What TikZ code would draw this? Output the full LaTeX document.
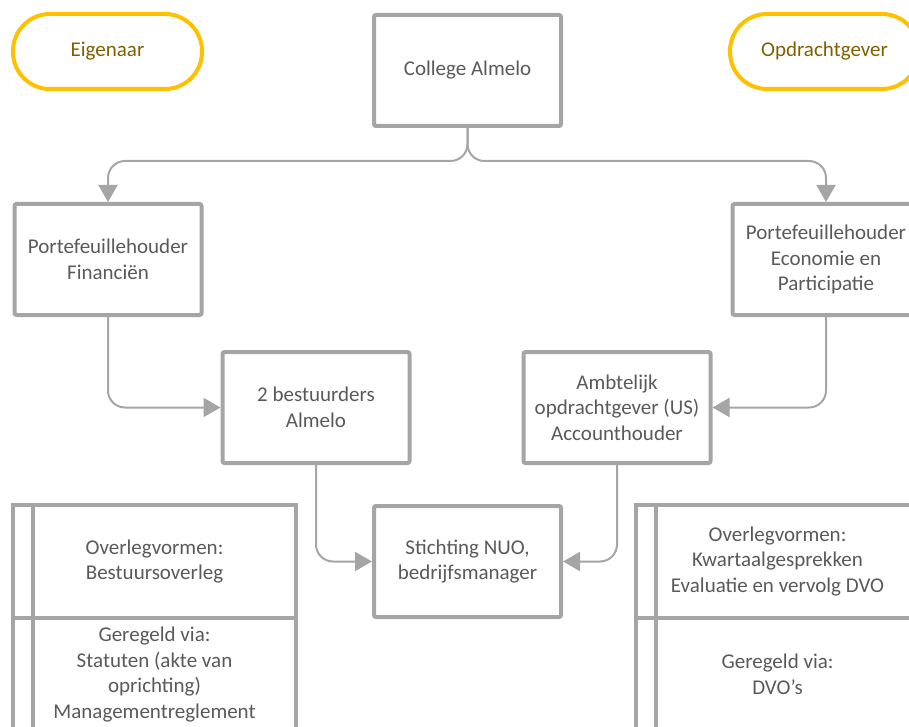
\documentclass[tikz,border=0pt]{standalone}
\usepackage{fontspec}
\setmainfont{Carlito}
\usetikzlibrary{arrows.meta}
\definecolor{boxgray}{HTML}{A5A5A5}
\definecolor{txtgray}{HTML}{595959}
\definecolor{gold}{HTML}{FFC000}
\definecolor{goldtxt}{HTML}{7F6000}

\begin{document}
\begin{tikzpicture}[x=1pt,y=-1pt,>={Triangle[length=17pt,width=19pt]},
 txt/.style={font=\fontsize{21}{25.6}\selectfont,align=center},
 box/.style={txt,draw=boxgray,line width=4pt,rounded corners=2pt,minimum width=187pt,minimum height=111pt,inner sep=0pt,text=txtgray},
 role/.style={txt,draw=gold,line width=4pt,rounded corners=37pt,minimum width=189pt,minimum height=75pt,text=goldtxt},
 cell/.style={box,rounded corners=0pt,minimum width=283pt,minimum height=113pt},
 conn/.style={draw=boxgray,line width=2pt,rounded corners=17pt,->}]
\useasboundingbox (0,0) rectangle (909,727);
\clip (0,0) rectangle (909,727);

% rollen
\node[role] (eig) at (107.5,51.5) {Eigenaar}; \node[role] (opd) at (824.5,51.5) {Opdrachtgever};

% organisatie
\node[box] (col) at (467.5,70.5) {College Almelo};
\node[box] (fin) at (108,259.5) {Portefeuillehouder\\Financiën}; \node[box] (eco) at (826,259.5) {Portefeuillehouder\\Economie en\\Participatie};
\node[box] (bes) at (316,407.5) {2 bestuurders\\Almelo}; \node[box] (amb) at (617,407.5) {Ambtelijk\\opdrachtgever (US)\\Accounthouder};
\node[box] (nuo) at (467.5,561.5) {Stichting NUO,\\bedrijfsmanager};

% overleg en afspraken
\node[cell] (ovlL) at (154.5,561.5) {Overlegvormen:\\Bestuursoverleg};
\node[cell] (regL) at (154.5,674.5) {Geregeld via:\\Statuten (akte van\\oprichting)\\Managementreglement};
\node[cell] (ovlR) at (777.5,561.5) {Overlegvormen:\\Kwartaalgesprekken\\Evaluatie en vervolg DVO};
\node[cell] (regR) at (777.5,674.5) {Geregeld via:\\DVO’s};
\draw[draw=boxgray,line width=4pt] ([xshift=22pt]ovlL.north west) -- ([xshift=22pt]regL.south west)
 ([xshift=22pt]ovlR.north west) -- ([xshift=22pt]regR.south west);

\coordinate (split) at (467.5,161);
\draw[conn] (col.south) -- (split) -| (fin.north); \draw[conn] (col.south) -- (split) -| (eco.north);
\draw[conn] (fin.south) |- (bes.west); \draw[conn] (eco.south) |- (amb.east);
\draw[conn] (bes.south) |- (nuo.west); \draw[conn] (amb.south) |- (nuo.east);
\end{tikzpicture}
\end{document}
